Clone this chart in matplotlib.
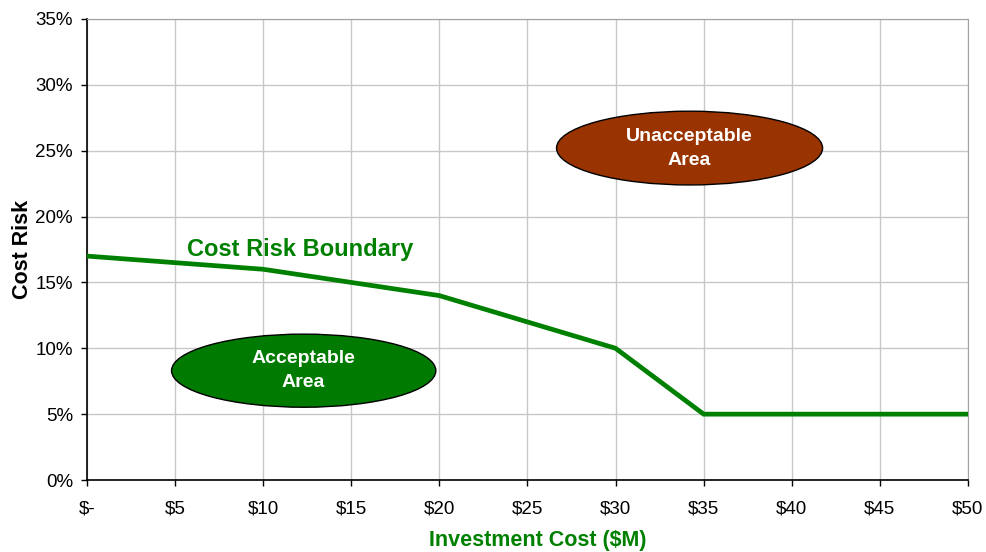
import matplotlib
matplotlib.use("Agg")
import matplotlib.pyplot as plt
from matplotlib.patches import Ellipse
from matplotlib.ticker import FuncFormatter

plt.rcParams['font.family'] = ['Liberation Sans', 'DejaVu Sans']

# boundary curve: investment cost ($M) vs cost risk (%)
cost = [0, 5, 10, 15, 20, 25, 30, 35, 40, 45, 50]
risk = [17, 16.5, 16, 15, 14, 12, 10, 5, 5, 5, 5]

x_ticks = [0, 5, 10, 15, 20, 25, 30, 35, 40, 45, 50]
x_labels = ["$-", "$5", "$10", "$15", "$20", "$25", "$30", "$35", "$40", "$45", "$50"]
y_ticks = [0, 5, 10, 15, 20, 25, 30, 35]

green = "#008000"

fig = plt.figure(figsize=(9.86, 5.52), dpi=100)
ax = fig.add_axes([0.0882, 0.1304, 0.8935, 0.8352])

ax.plot(cost, risk, color=green, linewidth=3.4, solid_joinstyle='miter', zorder=3)

# region markers
acc = Ellipse((12.3, 8.3), 15.0, 5.55, facecolor="#007a00", edgecolor="black", linewidth=1.0, zorder=4)
unacc = Ellipse((34.2, 25.2), 15.1, 5.6, facecolor="#993300", edgecolor="black", linewidth=1.0, zorder=4)
ax.add_patch(acc)
ax.add_patch(unacc)
ax.text(12.3, 8.3, "Acceptable\nArea", color="white", fontsize=14, fontweight="bold",
        ha="center", va="center", linespacing=1.55, zorder=5)
ax.text(34.2, 25.2, "Unacceptable\nArea", color="white", fontsize=14, fontweight="bold",
        ha="center", va="center", linespacing=1.55, zorder=5)
ax.text(5.7, 17.5, "Cost Risk Boundary", color=green, fontsize=17, fontweight="bold",
        ha="left", va="center", zorder=5)

ax.set_xlim(0, 50)
ax.set_ylim(0, 35)
ax.set_xticks(x_ticks)
ax.set_xticklabels(x_labels)
ax.set_yticks(y_ticks)
ax.yaxis.set_major_formatter(FuncFormatter(lambda v, p: f"{v:.0f}%"))
ax.tick_params(axis='both', direction='out', length=4, width=1, colors='black',
               labelsize=13.5, pad=6)
ax.tick_params(axis='x', pad=11)
ax.grid(True, color="#c8c8c8", linewidth=1)
ax.set_axisbelow(True)

for side in ['top', 'right']:
    ax.spines[side].set_color("#a0a0a0")
for side in ['left', 'bottom']:
    ax.spines[side].set_color("black")
    ax.spines[side].set_linewidth(1.2)

ax.set_xlabel("Investment Cost ($M)", color=green, fontsize=15.5, fontweight="bold")
ax.xaxis.set_label_coords(0.5113, -0.108)
ax.set_ylabel("Cost Risk", color="black", fontsize=15.5, fontweight="bold")
ax.yaxis.set_label_coords(-0.0615, 0.5)

fig.savefig("out.png", dpi=100)
